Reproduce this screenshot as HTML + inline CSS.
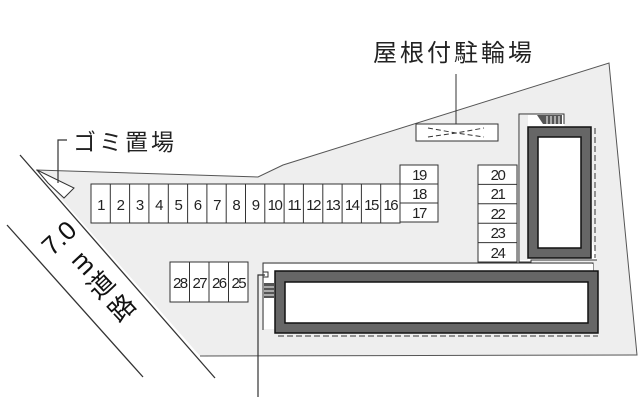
<!DOCTYPE html>
<html><head><meta charset="utf-8"><style>
body{margin:0;width:640px;height:400px;background:#fff;overflow:hidden;position:relative}
svg{position:absolute;left:0;top:0}
</style></head><body>
<svg width="640" height="400" viewBox="0 0 640 400" font-family="Liberation Sans, Noto Sans CJK JP, sans-serif">
<polygon points="36,170 258,177 283,165 609,63 637,355 200,356" fill="#eeeeee" stroke="none"/>
<polyline points="36,170 258,177 283,165 609,63 637,355 200,356" fill="none" stroke="#555" stroke-width="1"/>
<line x1="7" y1="225" x2="143" y2="377" stroke="#333" stroke-width="1.3"/>
<line x1="20" y1="155" x2="215" y2="378" stroke="#333" stroke-width="1.3"/>
<polygon points="37,170 74,188 64,198 48,183" fill="#fff" stroke="#333" stroke-width="1"/>
<polyline points="67,140 58,140 58,183" fill="none" stroke="#333" stroke-width="1.2"/>
<text x="73" y="150" font-size="23" letter-spacing="3" fill="#222">ゴミ置場</text>
<text x="373" y="61" font-size="24" letter-spacing="3" fill="#222">屋根付駐輪場</text>
<g font-size="26" fill="#111" text-anchor="middle" font-family="Liberation Sans, Noto Sans CJK JP, sans-serif">
<text transform="translate(59,238) rotate(-43)" y="9">7.0</text>
<text transform="translate(83,264) rotate(47)" y="7">m</text>
<text transform="translate(101,285) rotate(-43)" y="9">道</text>
<text transform="translate(122,308) rotate(-43)" y="9">路</text>
</g>
<line x1="456" y1="74" x2="456" y2="130" stroke="#333" stroke-width="1"/>
<rect x="416" y="124" width="82" height="17" fill="#fff" stroke="#333"/>
<path d="M428,128 L456,133 L484,128 M428,137 L456,133 L484,137" fill="none" stroke="#333" stroke-dasharray="5,3"/>
<g stroke="#333" fill="#fff" stroke-width="1">
<rect x="91" y="184" width="309" height="39"/>
<rect x="400" y="165" width="38" height="57"/>
<rect x="478" y="165" width="39" height="97"/>
<rect x="170" y="262" width="78" height="40"/>
</g>
<g stroke="#333" stroke-width="1">
<line x1="110.3" y1="184" x2="110.3" y2="223"/><line x1="129.6" y1="184" x2="129.6" y2="223"/><line x1="148.9" y1="184" x2="148.9" y2="223"/><line x1="168.3" y1="184" x2="168.3" y2="223"/><line x1="187.6" y1="184" x2="187.6" y2="223"/><line x1="206.9" y1="184" x2="206.9" y2="223"/><line x1="226.2" y1="184" x2="226.2" y2="223"/><line x1="245.5" y1="184" x2="245.5" y2="223"/><line x1="264.8" y1="184" x2="264.8" y2="223"/><line x1="284.1" y1="184" x2="284.1" y2="223"/><line x1="303.4" y1="184" x2="303.4" y2="223"/><line x1="322.8" y1="184" x2="322.8" y2="223"/><line x1="342.1" y1="184" x2="342.1" y2="223"/><line x1="361.4" y1="184" x2="361.4" y2="223"/><line x1="380.7" y1="184" x2="380.7" y2="223"/>
<line x1="400" y1="184" x2="438" y2="184"/><line x1="400" y1="203" x2="438" y2="203"/>
<line x1="478" y1="184.4" x2="517" y2="184.4"/><line x1="478" y1="203.8" x2="517" y2="203.8"/><line x1="478" y1="223.2" x2="517" y2="223.2"/><line x1="478" y1="242.6" x2="517" y2="242.6"/>
<line x1="189.5" y1="262" x2="189.5" y2="302"/><line x1="209" y1="262" x2="209" y2="302"/><line x1="228.5" y1="262" x2="228.5" y2="302"/>
</g>
<g font-size="15" fill="#222" text-anchor="middle" letter-spacing="-1.5">
<text x="100.6" y="210">1</text><text x="120" y="210">2</text><text x="139.3" y="210">3</text><text x="158.6" y="210">4</text><text x="177.9" y="210">5</text><text x="197.2" y="210">6</text><text x="216.5" y="210">7</text><text x="235.8" y="210">8</text><text x="255.2" y="210">9</text><text x="274.5" y="210">10</text><text x="293.8" y="210">11</text><text x="313.1" y="210">12</text><text x="332.4" y="210">13</text><text x="351.7" y="210">14</text><text x="371" y="210">15</text><text x="390.3" y="210">16</text>
<text x="419" y="180">19</text><text x="419" y="199">18</text><text x="419" y="218">17</text>
<text x="497.5" y="180">20</text><text x="497.5" y="199">21</text><text x="497.5" y="219">22</text><text x="497.5" y="238">23</text><text x="497.5" y="258">24</text>
<text x="179.8" y="288">28</text><text x="199.3" y="288">27</text><text x="218.8" y="288">26</text><text x="238.3" y="288">25</text>
</g>
<polyline points="564,124 564,114 519,114 519,262 531,262 531,260 597,260" fill="#fff" stroke="#333" stroke-width="1"/>
<rect x="520" y="115" width="8" height="145" fill="#eee"/>
<polygon points="537,115 562,115 562,124 543,124" fill="#555"/>
<g stroke="#fff" stroke-width="1"><line x1="547" y1="116" x2="547" y2="124"/><line x1="551" y1="116" x2="551" y2="124"/><line x1="555" y1="116" x2="555" y2="124"/><line x1="559" y1="116" x2="559" y2="124"/></g>
<rect x="528" y="127" width="63" height="131" fill="#666" stroke="#111" stroke-width="1.5"/>
<rect x="538" y="137" width="43" height="111" fill="#fff" stroke="#111" stroke-width="1.5"/>
<line x1="595" y1="128" x2="595" y2="258" stroke="#333" stroke-dasharray="6,3"/>
<polyline points="263,330 263,263 593,263 593,271" fill="none" stroke="#333" stroke-width="1"/>
<rect x="264" y="264" width="329" height="7" fill="#fff"/>
<rect x="264" y="271" width="11" height="58" fill="#fff"/>
<rect x="263" y="272" width="5" height="5" fill="#fff" stroke="#333"/>
<rect x="264" y="283" width="10" height="15" fill="#555"/>
<g stroke="#fff"><line x1="264" y1="287" x2="274" y2="287"/><line x1="264" y1="291" x2="274" y2="291"/><line x1="264" y1="295" x2="274" y2="295"/></g>
<rect x="275" y="271" width="323" height="62" fill="#666" stroke="#111" stroke-width="1.5"/>
<rect x="285" y="282" width="303" height="41" fill="#fff" stroke="#111" stroke-width="1.5"/>
<line x1="278" y1="336" x2="598" y2="336" stroke="#333" stroke-dasharray="6,3"/>
<polyline points="265,275 258,275 258,397" fill="none" stroke="#333" stroke-width="1.2"/>
</svg>
</body></html>
